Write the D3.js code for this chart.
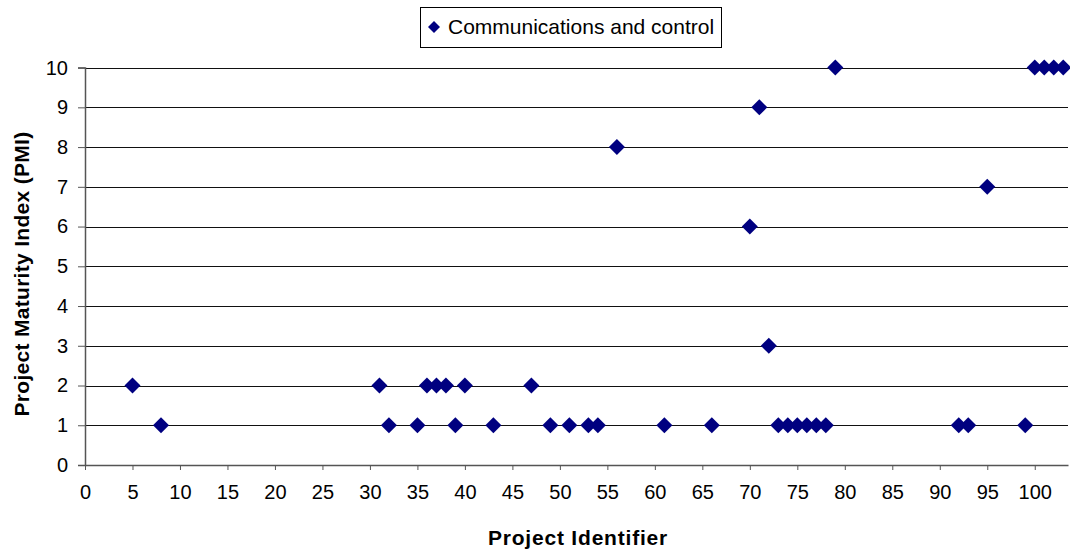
<!DOCTYPE html>
<html>
<head>
<meta charset="utf-8">
<script src="https://cdn.jsdelivr.net/npm/d3@7"></script>
<style>
  body { margin: 0; background: #fff; }
  text { font-family: "Liberation Sans", Arial, sans-serif; }
</style>
</head>
<body>
<script>
// project identifier / PMI pairs
const projectIds = [5, 31, 36, 37, 38, 40, 47,
  8, 32, 35, 39, 43, 49, 51, 53, 54, 61, 66, 73, 74, 75, 76, 77, 78, 92, 93, 99,
  72, 70, 95, 56, 71, 79, 100, 101, 102, 103];
const pmiValues = [2, 2, 2, 2, 2, 2, 2,
  1, 1, 1, 1, 1, 1, 1, 1, 1, 1, 1, 1, 1, 1, 1, 1, 1, 1, 1, 1,
  3, 6, 7, 8, 9, 10, 10, 10, 10, 10];
const xTicks = d3.range(0, 101, 5);
const yTicks = d3.range(0, 11, 1);
const seriesName = "Communications and control";

const W = 1070, H = 549;
const margin = { top: 67.6, right: 2, bottom: 84, left: 85 };

const svg = d3.select("body").append("svg")
  .attr("width", W)
  .attr("height", H);

const xscale = d3.scaleLinear().domain([0, 103.5]).range([margin.left, W - margin.right]);
const yscale = d3.scaleLinear().domain([0, 10]).range([H - margin.bottom, margin.top]);

// horizontal gridlines
svg.append("g")
  .selectAll("line")
  .data(yTicks.filter(d => d > 0))
  .join("line")
  .attr("x1", xscale(0))
  .attr("x2", W - margin.right)
  .attr("y1", d => Math.round(yscale(d)) + 0.5)
  .attr("y2", d => Math.round(yscale(d)) + 0.5)
  .attr("stroke", "#111")
  .attr("stroke-width", 1);

// y axis
const yAxis = svg.append("g")
  .attr("transform", `translate(${xscale(0)},0)`)
  .call(d3.axisLeft(yscale).tickValues(yTicks).tickSize(7).tickPadding(10).tickFormat(d3.format("d")));
yAxis.select(".domain").attr("stroke", "#555").attr("stroke-width", 1.5);
yAxis.selectAll(".tick line").attr("stroke", "#555");
yAxis.selectAll("text").attr("font-size", "20px").attr("fill", "#000")
  .attr("font-family", "Liberation Sans, Arial, sans-serif");

// x axis
const xAxis = svg.append("g")
  .attr("transform", `translate(0,${yscale(0)})`)
  .call(d3.axisBottom(xscale).tickValues(xTicks).tickSize(5).tickPadding(15).tickSizeOuter(0).tickFormat(d3.format("d")));
xAxis.select(".domain").attr("stroke", "#555").attr("stroke-width", 1.5);
xAxis.selectAll(".tick line").attr("stroke", "#555");
xAxis.selectAll("text").attr("font-size", "20px").attr("fill", "#000")
  .attr("font-family", "Liberation Sans, Arial, sans-serif");

// diamond markers
const diamond = (cx, cy, r) => `M${cx},${cy - r}L${cx + r},${cy}L${cx},${cy + r}L${cx - r},${cy}Z`;

svg.append("g")
  .selectAll("path")
  .data(projectIds.map((id, i) => ({ id: id, pmi: pmiValues[i] })))
  .join("path")
  .attr("d", d => diamond(xscale(d.id), yscale(d.pmi), 8))
  .attr("fill", "#000080");

// axis titles
svg.append("text")
  .attr("x", 578)
  .attr("y", 545)
  .attr("text-anchor", "middle")
  .attr("font-size", "21px")
  .attr("font-weight", "bold")
  .attr("letter-spacing", "0.8px")
  .text("Project Identifier");

svg.append("text")
  .attr("transform", "rotate(-90)")
  .attr("x", -274)
  .attr("y", 29)
  .attr("text-anchor", "middle")
  .attr("font-size", "21px")
  .attr("font-weight", "bold")
  .attr("letter-spacing", "0.3px")
  .text("Project Maturity Index (PMI)");

// legend
const legend = svg.append("g");
legend.append("rect")
  .attr("x", 420.5).attr("y", 7.5)
  .attr("width", 301).attr("height", 40)
  .attr("fill", "#fff").attr("stroke", "#000");
legend.append("path")
  .attr("d", diamond(434, 27, 6))
  .attr("fill", "#000080");
legend.append("text")
  .attr("x", 448).attr("y", 34)
  .attr("font-size", "21px")
  .text(seriesName);
</script>
</body>
</html>
